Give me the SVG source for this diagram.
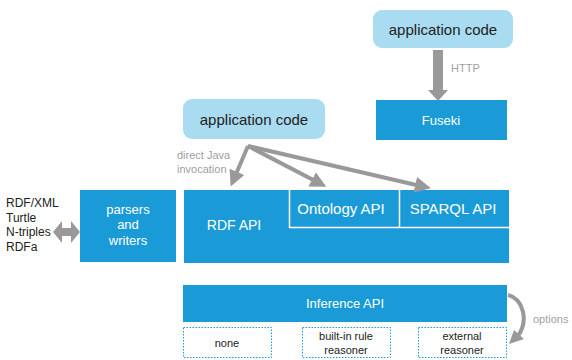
<svg xmlns="http://www.w3.org/2000/svg" width="572" height="360" viewBox="0 0 572 360">
<style>
.app{fill:#a9dcf0}
.blue{fill:#1a9bd7}
.dot{fill:#fff;stroke:#1a9bd7;stroke-width:1;stroke-dasharray:1.5 1.5}
.t{font-family:"Liberation Sans",Arial,sans-serif}
.w{fill:#fff;font-size:13px;text-anchor:middle}
.L{font-size:15px}
.d{fill:#222;font-size:15px;text-anchor:middle}
.g{fill:#a0a0a0;font-size:11px}
.k{fill:#222;font-size:12px}
.s{fill:#222;font-size:11px;text-anchor:middle}
.arr{stroke:#999;stroke-width:4;fill:none}
</style>
<defs>
<marker id="ah" markerWidth="4" markerHeight="4" refX="2.5" refY="2" orient="auto" markerUnits="strokeWidth">
<path d="M0,0 L4,2 L0,4 z" fill="#999"/>
</marker>
</defs>
<rect width="572" height="360" fill="#fff"/>
<g id="app-top">
<rect class="app" x="373" y="10" width="140" height="38" rx="9"/>
<text class="t d" x="443" y="35">application code</text>
</g>
<g id="fuseki">
<rect class="blue" x="376" y="100" width="131" height="40"/>
<text class="t w" x="441" y="125">Fuseki</text>
</g>
<g id="app-mid">
<rect class="app" x="183" y="99" width="142" height="40" rx="9"/>
<text class="t d" x="254" y="125">application code</text>
</g>
<g id="parsers">
<rect class="blue" x="80" y="190" width="96" height="72"/>
<text class="t w" x="128" y="214">parsers</text>
<text class="t w" x="128" y="229">and</text>
<text class="t w" x="128" y="245">writers</text>
</g>
<g id="rdf-api">
<rect class="blue" x="184" y="190" width="325" height="73"/>
<text class="t w" x="234" y="230" style="font-size:14px">RDF API</text>
<path d="M289.5,190 V227.5 H509 M399.5,190 V227.5" stroke="#fff" stroke-width="1.5" fill="none"/>
</g>
<g id="ontology-api">
<text class="t w L" x="341" y="214">Ontology API</text>
</g>
<g id="sparql-api">
<text class="t w L" x="453" y="214">SPARQL API</text>
</g>
<g id="formats">
<text class="t k" x="6" y="207">RDF/XML</text>
<text class="t k" x="6" y="222">Turtle</text>
<text class="t k" x="6" y="236">N-triples</text>
<text class="t k" x="6" y="251">RDFa</text>
</g>
<g id="inference-api">
<rect class="blue" x="183" y="285" width="324" height="37"/>
<text class="t w" x="345" y="308">Inference API</text>
</g>
<g id="none">
<rect class="dot" x="183.5" y="327.5" width="88" height="30"/>
<text class="t s" x="227" y="347">none</text>
</g>
<g id="builtin">
<rect class="dot" x="302.5" y="327.5" width="88" height="30"/>
<text class="t s" x="346" y="340">built-in rule</text>
<text class="t s" x="346" y="354">reasoner</text>
</g>
<g id="external">
<rect class="dot" x="418.5" y="327.5" width="88" height="30"/>
<text class="t s" x="462" y="340">external</text>
<text class="t s" x="462" y="354">reasoner</text>
</g>
<g id="connectors">
<path d="M433,50 V90 H428 L438,101 L448,90 H443 V50 z" fill="#999"/>
<text class="t g" x="451" y="72">HTTP</text>
<text class="t g" x="177" y="159">direct Java</text>
<text class="t g" x="177" y="173">invocation</text>
<line class="arr" x1="248" y1="146" x2="233" y2="181" marker-end="url(#ah)"/>
<line class="arr" x1="248" y1="146" x2="321" y2="184" marker-end="url(#ah)"/>
<line class="arr" x1="248" y1="146" x2="425" y2="187" marker-end="url(#ah)"/>
<path d="M53,232 L62,221 V228 H71 V221 L80,232 L71,243 V236 H62 V243 z" fill="#999"/>
<path d="M508,295 C523,299 529,320 518,336" class="arr" stroke-width="5"/>
<path d="M509,344 L514,330 L524,339 z" fill="#999"/>
<text class="t g" x="533" y="323">options</text>
</g>
</svg>
